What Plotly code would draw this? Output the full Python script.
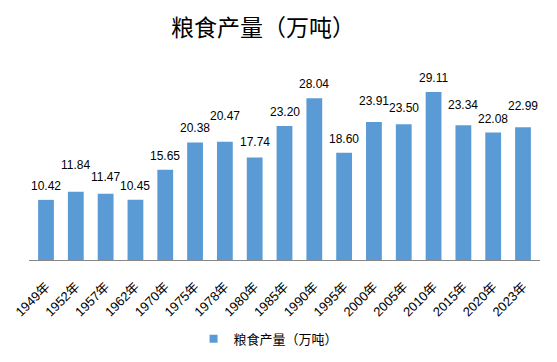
import plotly.graph_objects as go

years = ["1949年", "1952年", "1957年", "1962年", "1970年", "1975年", "1978年", "1980年", "1985年",
         "1990年", "1995年", "2000年", "2005年", "2010年", "2015年", "2020年", "2023年"]
output = [10.42, 11.84, 11.47, 10.45, 15.65, 20.38, 20.47, 17.74, 23.20,
          28.04, 18.60, 23.91, 23.50, 29.11, 23.34, 22.08, 22.99]
# extra upward nudge (px) of each data label, as placed in the original chart
label_lift = [0, 13, 2.5, 0, 0, 0, 12, 1.5, 0, 0, 0, 7.5, 2, 0, 6.5, 0, 7.5]
series_name = "粮食产量（万吨）"
bar_color = "#5B9BD5"

fig = go.Figure()
fig.add_trace(go.Bar(
    x=years, y=output, name=series_name, showlegend=False,
    marker=dict(color=bar_color, line=dict(width=0)),
    cliponaxis=False,
))
# legend entry with a small square swatch
fig.add_trace(go.Scatter(
    x=[None], y=[None], mode="markers", name=series_name,
    marker=dict(symbol="square", size=8, color=bar_color),
))

for yr, v, lift in zip(years, output, label_lift):
    fig.add_annotation(
        x=yr, y=v, text=f"{v:.2f}", showarrow=False,
        xanchor="center", yanchor="bottom", yshift=5 + lift,
        font=dict(family="Liberation Sans, Arial", size=12, color="#000000"),
    )

fig.update_layout(
    width=557, height=362,
    margin=dict(l=29, r=17, t=58, b=102, autoexpand=False),
    paper_bgcolor="white", plot_bgcolor="white",
    bargap=0.47,
    title=dict(text=series_name, x=0.472, xanchor="center", y=0.923, yanchor="middle",
               font=dict(family="Noto Sans CJK SC", size=23, color="#000000")),
    showlegend=True,
    legend=dict(orientation="h", x=0.322, xanchor="left", y=-0.39, yanchor="middle",
                font=dict(family="Noto Sans CJK SC", size=13, color="#000000")),
    xaxis=dict(tickangle=-45, showline=True, linecolor="#888888", linewidth=1,
               ticks="", automargin=False, ticklabelstandoff=13,
               tickfont=dict(family="Liberation Sans, Noto Sans CJK SC", size=13, color="#000000"),
               showgrid=False),
    yaxis=dict(range=[0, 35], visible=False, showgrid=False, automargin=False),
)

fig.write_html("out.html", config={"displayModeBar": False},
               post_script="document.body.style.margin='0px';")
